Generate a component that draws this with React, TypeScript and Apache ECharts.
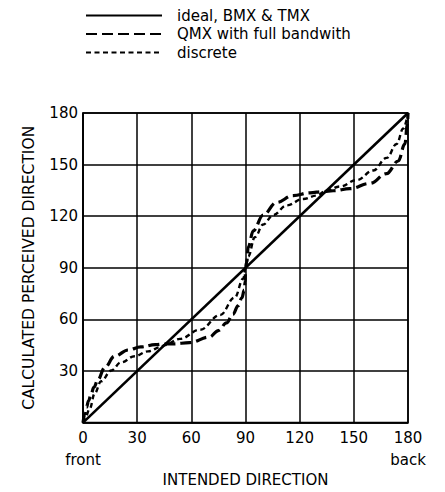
import React, { useEffect, useRef } from "react";
import * as echarts from "echarts";

const xTicks = [0, 30, 60, 90, 120, 150, 180];
const idealData: [number, number][] = [[0, 0], [180, 180]];
const qmxData: [number, number][] = [
  [0, 0], [1, 5], [2, 9], [3, 12.5], [4.6, 17], [6, 20.5], [8.3, 25], [12, 32], [17.5, 38.6],
  [25, 42.2], [32, 44], [40, 45.3], [45, 45.7], [50, 45.8], [59, 46.5], [70, 49.7], [75, 53.5],
  [79.5, 58], [83, 63], [86, 68], [88, 72.5], [89.3, 77], [89.8, 82], [90, 90],
  [90.6, 93], [91.5, 102], [94.3, 111.5], [99.8, 120.7], [107.2, 128], [116.4, 132],
  [125.7, 133.6], [133, 134.3], [138.6, 134.8], [147.8, 136], [158.9, 139.1], [168.1, 144.7],
  [174.6, 152.1], [178.3, 162], [179.6, 173], [180, 180],
];
const discreteData: [number, number][] = [
  [0, 0], [1.5, 3.5], [3.7, 8], [6.5, 17], [10, 24], [15.7, 30.3], [21, 35], [28.6, 38.6],
  [36, 41.4], [43.4, 44], [45, 45], [53.7, 48.7], [64.8, 54], [76, 62.6], [84, 72.7],
  [88.8, 83.8], [90, 90], [91.5, 96.6], [95.2, 107.8], [99.8, 115.2], [105.4, 120.7],
  [112.8, 126.3], [122, 130], [129.4, 132], [135, 135], [142.3, 137.3], [151.6, 141],
  [160.8, 146.6], [168.2, 153.9], [173.7, 162], [177.4, 171], [180, 180],
];
const seriesNames = ["ideal, BMX & TMX", "QMX with full bandwith", "discrete"];
const endLabels: Record<number, string> = { 0: "front", 180: "back" };

const FONT = "DejaVu Sans";

export default function App() {
  const ref = useRef<HTMLDivElement>(null);
  useEffect(() => {
    if (!ref.current) return;
    const chart = echarts.init(ref.current, null, { renderer: "svg" });
    chart.setOption({
      animation: false,
      backgroundColor: "#fff",
      legend: {
        orient: "vertical",
        left: 80,
        top: 3,
        itemWidth: 76,
        itemHeight: 14,
        itemGap: 3.5,
        data: seriesNames,
        itemStyle: { opacity: 0, color: "transparent", borderColor: "transparent", borderWidth: 0 },
        textStyle: { fontFamily: FONT, fontSize: 15, color: "#000", padding: [0, 0, 0, 10] },
      },
      grid: {
        left: 83, right: 37, top: 113, bottom: 54,
        show: true, borderColor: "#000", borderWidth: 1.5,
      },
      xAxis: {
        type: "value", min: 0, max: 180, interval: 30,
        name: "INTENDED DIRECTION", nameLocation: "middle", nameGap: 39,
        nameTextStyle: { fontFamily: FONT, fontSize: 15, color: "#000" },
        axisLine: { show: true, lineStyle: { color: "#000", width: 1.5 } },
        axisTick: { show: false },
        splitLine: { show: true, lineStyle: { color: "#000", width: 1.5 } },
        axisLabel: {
          margin: 5,
          formatter: (v: number) =>
            endLabels[v] ? `{n|${v}}\n{s|${endLabels[v]}}` : `{n|${v}}`,
          rich: {
            n: { fontFamily: FONT, fontSize: 15, color: "#000", lineHeight: 20 },
            s: { fontFamily: FONT, fontSize: 15, color: "#000", lineHeight: 24 },
          },
        },
      },
      yAxis: {
        type: "value", min: 0, max: 180, interval: 30,
        name: "CALCULATED PERCEIVED DIRECTION", nameLocation: "middle", nameGap: 46,
        nameTextStyle: { fontFamily: FONT, fontSize: 15.5, color: "#000" },
        axisLine: { show: true, lineStyle: { color: "#000", width: 1.5 } },
        axisTick: { show: false },
        splitLine: { show: true, lineStyle: { color: "#000", width: 1.5 } },
        axisLabel: { margin: 5, fontFamily: FONT, fontSize: 15, color: "#000",
          formatter: (v: number) => (v === 0 ? "" : String(v)) },
      },
      series: [
        {
          name: seriesNames[0], type: "line", data: idealData, showSymbol: false, symbol: "none",
          lineStyle: { color: "#000", width: 2.6, type: "solid" }, itemStyle: { color: "#000" },
        },
        {
          name: seriesNames[1], type: "line", data: qmxData, showSymbol: false, symbol: "none",
          smooth: 0.4, smoothMonotone: "x",
          lineStyle: { color: "#000", width: 3.2, type: [11, 5] }, itemStyle: { color: "#000" },
        },
        {
          name: seriesNames[2], type: "line", data: discreteData, showSymbol: false, symbol: "none",
          smooth: 0.4, smoothMonotone: "x",
          lineStyle: { color: "#000", width: 2.4, type: [5, 3.5] }, itemStyle: { color: "#000" },
        },
      ],
    });
    return () => chart.dispose();
  }, []);
  return (
    <div
      ref={ref}
      style={{ position: "fixed", left: 0, top: 0, width: 445, height: 492, background: "#fff" }}
    />
  );
}
